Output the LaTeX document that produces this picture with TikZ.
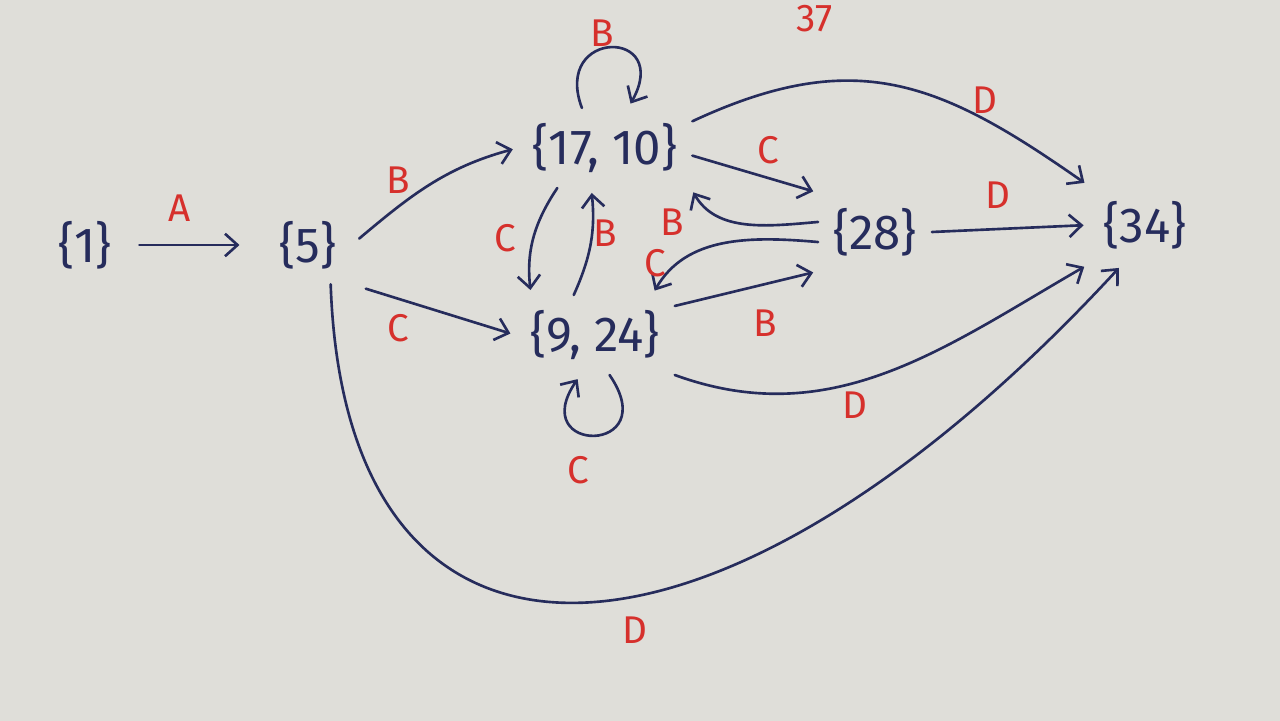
\documentclass[tikz,border=0pt]{standalone}
\usepackage{fontspec}
\setmainfont{Fira Sans}
\usetikzlibrary{arrows.meta}

\definecolor{ink}{RGB}{38,44,92}
\definecolor{pen}{RGB}{214,48,44}
\definecolor{paper}{RGB}{223,222,217}

\tikzset{
  state/.style={inner sep=3mm, text=ink, font=\fontsize{28}{32}\selectfont},
  lbl/.style={inner sep=1pt, text=pen, font=\fontsize{22}{26}\selectfont},
  edge/.style={draw=ink, line width=1.5pt, line cap=round,
    -{Straight Barb[length=2.5mm,width=4.5mm]}, shorten >=1mm}
}

\begin{document}
\begin{tikzpicture}[x=0.2mm, y=0.2mm]
% Paper, 1 unit = 1 px of the sketch
\fill[paper] (0,0) rectangle (1280,721);
\useasboundingbox (0,0) rectangle (1280,721);

% States
\node[state] (n1)   at (85,476)   {\{1\}};
\node[state] (n5)   at (308,476)  {\{5\}};
\node[state] (n1710) at (605,573) {\{17, 10\}};
\node[state] (n924) at (595,386)  {\{9, 24\}};
\node[state] (n28)  at (875,489)  {\{28\}};
\node[state] (n34)  at (1145,496) {\{34\}};

% Transitions
\draw[edge, shorten <=2.5mm, shorten >=5mm] (n1) -- (n5);
\draw[edge, shorten <=2mm] (n5.east) to[out=40, in=195] (n1710.west);
\draw[edge, shorten <=3mm] (n5.south east) -- (n924.west);
\draw[edge] (n5.-60) .. controls +(15,-437) and +(-403,-437) .. (n34.-120);

% Self loops
\draw[edge] (n1710.120) .. controls +(-30,80) and +(45,80) .. (n1710.60);
\draw[edge] (n924.-70) .. controls +(55,-80) and +(-55,-80) .. (n924.-110);

% Between the middle states
\draw[edge] (n1710.-140) to[bend right=20] (n924.148);
\draw[edge] (n924.118) to[bend right=15] (n1710.-109);
\draw[edge] (n1710.-5) -- (n28.north west);
\draw[edge] (n28.170) to[out=185, in=-60] (n1710.-25);
\draw[edge] (n28.190) to[out=175, in=60] (n924.35);
\draw[edge] (n924.20) -- (n28.south west);

% Into the final state
\draw[edge] (n1710.17) to[out=25, in=145, looseness=1.15] (n34.north west);
\draw[edge] (n28.east) -- (n34.west);
\draw[edge] (n924.south east) to[out=-20, in=210] (n34.south west);

% Labels
\node[lbl] (lA)   at (180,513) {A};
\node[lbl] (lB1)  at (398,541) {B};
\node[lbl] (lC1)  at (398,393) {C};
\node[lbl] (lBl)  at (602,688) {B};
\node[lbl] (lC2)  at (505,483) {C};
\node[lbl] (lB2)  at (605,488) {B};
\node[lbl] (lC3)  at (768,571) {C};
\node[lbl] (lB3)  at (672,499) {B};
\node[lbl] (lC4)  at (655,458) {C};
\node[lbl] (lB4)  at (765,398) {B};
\node[lbl] (lD1)  at (985,621) {D};
\node[lbl] (lD2)  at (998,526) {D};
\node[lbl] (lD3)  at (855,316) {D};
\node[lbl] (lCl)  at (578,251) {C};
\node[lbl] (lD4)  at (635,91)  {D};
\node[lbl] (l37)  at (815,702) {37};
\end{tikzpicture}
\end{document}
